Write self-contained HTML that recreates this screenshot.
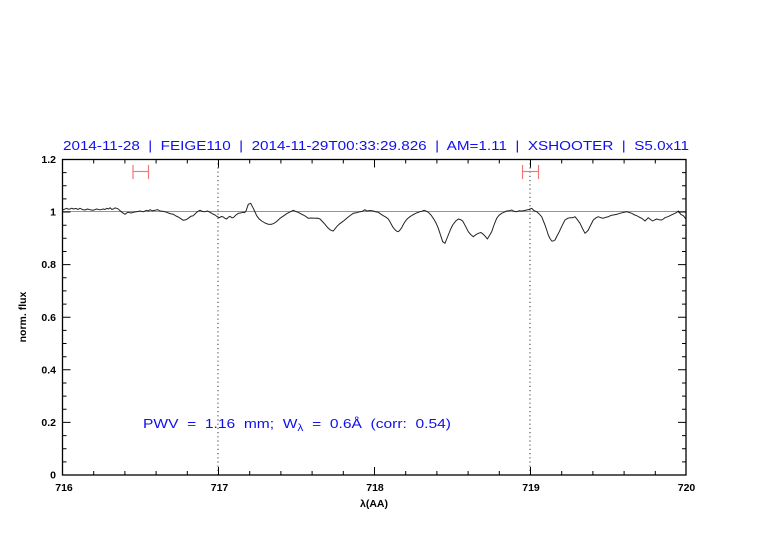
<!DOCTYPE html>
<html><head><meta charset="utf-8"><style>
html,body{margin:0;padding:0;background:#fff;}
svg{display:block;}
</style></head><body>
<svg width="782" height="542" viewBox="0 0 782 542" xmlns="http://www.w3.org/2000/svg">
<rect width="782" height="542" fill="#fff"/>
<!-- title -->
<text x="63" y="150" font-family="Liberation Sans, sans-serif" font-size="13" fill="#1010ee" xml:space="preserve" textLength="626" lengthAdjust="spacingAndGlyphs">2014-11-28  |  FEIGE110  |  2014-11-29T00:33:29.826  |  AM=1.11  |  XSHOOTER  |  S5.0x11</text>

<!-- reference line at 1 -->
<line x1="62.5" y1="211.5" x2="686" y2="211.5" stroke="#e87070" stroke-width="0.9"/>

<!-- dotted verticals -->
<line x1="218" y1="159" x2="218" y2="475" stroke="#000" stroke-width="0.8" stroke-dasharray="1.2,3"/>
<line x1="530" y1="159" x2="530" y2="475" stroke="#000" stroke-width="0.8" stroke-dasharray="1.2,3"/>

<!-- error bars -->
<g stroke="#f07878" stroke-width="1.2" fill="none">
<line x1="133" y1="171.5" x2="148.5" y2="171.5"/>
<line x1="133" y1="165" x2="133" y2="179"/>
<line x1="148.5" y1="165" x2="148.5" y2="179"/>
<line x1="522.5" y1="171.5" x2="538.5" y2="171.5"/>
<line x1="522.5" y1="165" x2="522.5" y2="179"/>
<line x1="538.5" y1="165" x2="538.5" y2="179"/>
</g>

<!-- spectrum -->
<polyline fill="none" stroke="#222" stroke-width="1" stroke-linejoin="round" points="
62.7,210 64.5,209.2 66.7,208.3 68.5,209.3 70,209 71.8,208.2 73.3,209 75,208.6 76,208.5 78,209.4 80,208.3 82.5,209.6 85,210 87.5,209 90,209.7 93,210.3 96.7,209 100,209.8 103.3,209 105,209.5 106.7,208.3 108.5,209 110,207.7 111.8,209.4 113.3,209 115,207.9 116.7,208.3 118.5,209.2 120,210.7 122.5,212.7 125,214.3 126.8,212.9 128.3,212.3 131,213 133.3,212.3 136.5,211.7 140,211 143,211.8 146.7,210.3 148.5,211 150,209.7 152.5,210.8 155,210.3 157.5,209.6 160,211 163.5,211.4 166.7,212.3 170,213.6 173.3,214.3 176,216 178.3,217 181,218.8 183.3,220.3 186,219.7 188.3,218.3 191,216.2 193.3,215.7 195,214 196.7,212.3 198.5,211 200,210.3 202.5,211.5 205,211.7 207.5,211 210,212.3 212.5,213.8 215,215 217,216.5 219.3,217.7 221.5,216.5 223.3,217 225,218.4 226.7,219 228.3,217.3 230,216.3 231.8,217.8 233.3,217.7 236,215 238.3,213.3 240.5,213 242.7,212.3 244.5,212.6 246,211 248.3,204.3 250.7,203.3 253.3,208.3 256.7,215.7 259,218.8 261.7,221 265,223 268.3,224.3 271,224.4 273.3,223.7 276,222 278.3,220
280,218.3 283,216.3 286.7,213.7 290,211.9 293.3,210.3 296,211.6 298.3,212.3 301,213.9 303.3,215 306,216.6 308.3,218.3 311.5,218 315,218.3 317.5,218.1 320,219 322.5,221.6 325,224.3 327.5,227.4 330,229.7 331.8,230.6 333.3,231 335,228.8 336.7,226.7 339,224.3 341.7,222.3 344,220.6 346.7,218.3 350,215.6 353.3,213.3 356.5,212.8 360,211.7 362.5,211.2 365,209.7 366.7,211 370,210.5 373.3,211 376,211.9 378.3,212.3 381,214.2 383.3,215.7 386,217.2 388.3,219 390,221.8 391.7,225 393.3,227.7 395,229.7 396.8,231.2 398.3,231.7 400,230 401.7,227.7 403.3,224.5 405,221.7 407.5,218.6 410,216.7 412.5,215 415,213.7 417.5,212.6 420,211.7 422,211.2 424,210.3 426,211 428.3,212.3 431,215 433.3,218.3 436,222.9 438.3,228.3 440.5,235 442.7,241.7 445,243.3 446.5,239.5 448.3,235 450.5,229.5 452.7,225 455.5,221.3 458.3,219 460.5,219.6 462.7,221 465.5,226.2 468.3,231.7 471,234.8 473.3,236.7 476,234.6 478.3,233.3 481,232.5 483.3,234.3 485.5,236.6 487.3,239
489.5,235.5 491.7,231.7 494,225 496.7,218.3 499,215.3 501.7,213.3 504,212.3 506.7,211 509,210.8 511.7,210 514,211.3 516.7,211.7 519,210.8 521.7,211 524,210.6 526.7,210 529,209.5 531.7,208.3 534,210.6 536.7,211.7 539,213.8 541.7,216.7 543.3,220.8 545,225 546.7,230 548.3,235 550,238.5 551.7,241 553.3,241 555,240 557,236 559.3,231.7 562,225.8 565,220 567.5,218.4 570,217.7 572.5,217.8 575,216.7 577.5,219.8 580,223.3 582.5,228.5 585,233.3 586.8,231.8 588.3,230 591,224.5 593.3,220 596,217.8 598.3,216.7 601,217.8 603.3,218.3 606,217.2 608.3,216.7 611,215.4 613.3,215 616.5,214.4 620,213.3 623.5,212.4 626.7,211.7 629,212.4 631.7,213.3 634,214.6 636.7,215.7 639,217 641.7,218.3 643.5,219.8 645,221 646.6,219.4 648.3,217.7 650.5,219.5 652.7,221 654.5,220 656.7,219 659,219.8 661.7,220 663.3,219 665,217.7 667.5,216.8 670,215.7 672.5,214.4 675,213.3 676.7,212.4 678.3,211 680.7,214.3 683.3,215.7 686,219"/>

<!-- axes box -->
<rect x="62.5" y="159.5" width="623.5" height="315.5" fill="none" stroke="#000" stroke-width="1.3"/>

<!-- ticks -->
<g stroke="#000" stroke-width="1">
<path d="M62.5,475v-8M218.5,475v-8M374.5,475v-8M530.5,475v-8M686,475v-8
M62.5,159.5v8M218.5,159.5v8M374.5,159.5v8M530.5,159.5v8M686,159.5v8"/>
<path d="M93.7,475v-4M124.9,475v-4M156.1,475v-4M187.3,475v-4
M249.7,475v-4M280.9,475v-4M312.1,475v-4M343.3,475v-4
M405.7,475v-4M436.9,475v-4M468.1,475v-4M499.3,475v-4
M561.7,475v-4M592.9,475v-4M624.1,475v-4M655.3,475v-4
M93.7,159.5v4M124.9,159.5v4M156.1,159.5v4M187.3,159.5v4
M249.7,159.5v4M280.9,159.5v4M312.1,159.5v4M343.3,159.5v4
M405.7,159.5v4M436.9,159.5v4M468.1,159.5v4M499.3,159.5v4
M561.7,159.5v4M592.9,159.5v4M624.1,159.5v4M655.3,159.5v4"/>
<path d="M62.5,422.4h8M62.5,369.8h8M62.5,317.2h8M62.5,264.6h8M62.5,212h8
M686,422.4h-8M686,369.8h-8M686,317.2h-8M686,264.6h-8M686,212h-8"/>
<path d="M62.5,461.9h4M62.5,448.7h4M62.5,435.6h4M62.5,409.3h4M62.5,396.1h4M62.5,383h4
M62.5,356.7h4M62.5,343.5h4M62.5,330.4h4M62.5,304.1h4M62.5,290.9h4M62.5,277.8h4
M62.5,251.5h4M62.5,238.3h4M62.5,225.2h4M62.5,198.9h4M62.5,185.7h4M62.5,172.6h4
M686,461.9h-4M686,448.7h-4M686,435.6h-4M686,409.3h-4M686,396.1h-4M686,383h-4
M686,356.7h-4M686,343.5h-4M686,330.4h-4M686,304.1h-4M686,290.9h-4M686,277.8h-4
M686,251.5h-4M686,238.3h-4M686,225.2h-4M686,198.9h-4M686,185.7h-4M686,172.6h-4"/>
</g>

<!-- y labels -->
<g font-family="Liberation Sans, sans-serif" font-size="10.5" font-weight="bold" fill="#000" text-anchor="end">
<text x="56" y="163">1.2</text>
<text x="56" y="215.5">1</text>
<text x="56" y="268">0.8</text>
<text x="56" y="321">0.6</text>
<text x="56" y="373.5">0.4</text>
<text x="56" y="426">0.2</text>
<text x="56" y="478.5">0</text>
</g>
<!-- x labels -->
<g font-family="Liberation Sans, sans-serif" font-size="10.5" font-weight="bold" fill="#000" text-anchor="middle">
<text x="64" y="491">716</text>
<text x="219.5" y="491">717</text>
<text x="375" y="491">718</text>
<text x="531" y="491">719</text>
<text x="686.5" y="491">720</text>
<text x="374" y="507">λ(AA)</text>
</g>
<text transform="translate(26,317) rotate(-90)" font-family="Liberation Sans, sans-serif" font-size="10.5" font-weight="bold" fill="#000" text-anchor="middle">norm. flux</text>

<!-- annotation -->
<text x="143" y="428" font-family="Liberation Sans, sans-serif" font-size="13" fill="#1010ee" xml:space="preserve" textLength="308" lengthAdjust="spacingAndGlyphs">PWV  =  1.16  mm;  W<tspan font-size="10" dy="3">λ</tspan><tspan dy="-3">  =  0.6Å  (corr:  0.54)</tspan></text>
</svg>
</body></html>
